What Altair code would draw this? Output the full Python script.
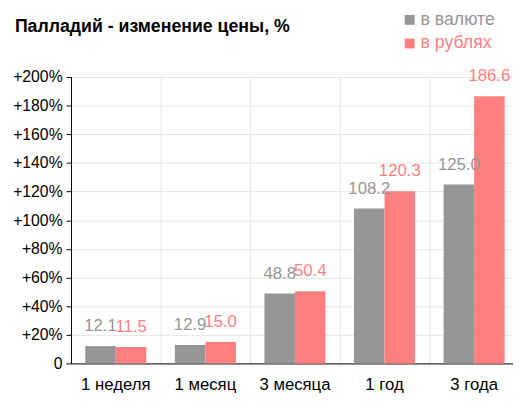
import altair as alt
import pandas as pd

categories = ["1 неделя", "1 месяц", "3 месяца", "1 год", "3 года"]
series = ["в валюте", "в рублях"]
val_currency = [12.1, 12.9, 48.8, 108.2, 125.0]
val_rub = [11.5, 15.0, 50.4, 120.3, 186.6]
y_ticks = [0, 20, 40, 60, 80, 100, 120, 140, 160, 180, 200]
colors = ["#969696", "#ff7f7f"]
title_text = ["Палладий - изменение цены, %"]

rows = []
for c, a, b in zip(categories, val_currency, val_rub):
    rows.append({"cat": c, "series": series[0], "value": a})
    rows.append({"cat": c, "series": series[1], "value": b})
df = pd.DataFrame(rows)
leg_df = pd.DataFrame({"series": series})
title_df = pd.DataFrame({"t": title_text})

FONT = "Liberation Sans"

x = alt.X("cat:N", sort=categories, title=None,
          scale=alt.Scale(paddingInner=0, paddingOuter=0, range=[0, 455]),
          axis=alt.Axis(labelAngle=0, labelFontSize=17, labelColor="#000", labelFont=FONT,
                        domainColor="#000", ticks=False, labelPadding=13,
                        grid=True, gridColor="#e6e6e6", bandPosition=0))
y = alt.Y("value:Q", title=None,
          scale=alt.Scale(domain=[0, 200], nice=False),
          axis=alt.Axis(values=y_ticks, labelExpr="datum.value == 0 ? '0' : '+' + datum.value + '%'",
                        labelFontSize=16, labelColor="#000", labelFont=FONT, labelPadding=4,
                        domainColor="#000", tickColor="#000", tickSize=5,
                        gridColor="#e6e6e6"))
cscale = alt.Scale(domain=series, range=colors)
color = alt.Color("series:N", sort=series, scale=cscale, legend=None)

base = alt.Chart(df).encode(
    x=x, y=y,
    xOffset=alt.XOffset("series:N", sort=series, scale=alt.Scale(paddingInner=0, paddingOuter=0.468)))

bars = base.mark_bar(stroke=None).encode(color=color)
labels = base.mark_text(baseline="bottom", dy=-11, fontSize=17, font=FONT).encode(
    text=alt.Text("value:Q", format=".1f"), color=color)

legend_layers = []
for i, s in enumerate(series):
    ld = alt.Chart(leg_df).transform_filter(alt.datum.series == s)
    yy = -58 + i * 24
    legend_layers.append(ld.mark_square(size=100, opacity=1).encode(
        x=alt.value(344), y=alt.value(yy), color=color))
    legend_layers.append(ld.mark_text(align="left", baseline="middle", fontSize=18, font=FONT).encode(
        x=alt.value(355), y=alt.value(yy), text="series:N", color=color))

title = alt.Chart(title_df).mark_text(
    align="left", baseline="middle", fontSize=18, fontWeight="bold",
    font=FONT, color="#000").encode(
    x=alt.value(-57), y=alt.value(-51), text="t:N")

chart = alt.layer(bars, labels, *legend_layers, title).properties(
    width=449, height=291,
    autosize="none",
    padding={"left": 64, "top": 67, "right": 0, "bottom": 30},
).configure_view(stroke=None).configure_axis(gridWidth=1)

chart.save("out.html", embed_options={"renderer": "svg", "actions": False})
